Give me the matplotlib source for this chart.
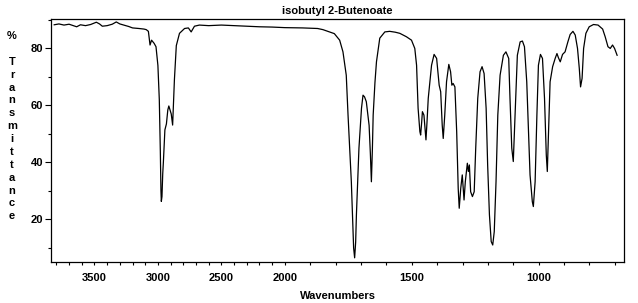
import numpy as np
import matplotlib
matplotlib.use('Agg')
import matplotlib.pyplot as plt
from matplotlib.ticker import FixedLocator, MultipleLocator

# spectrum (wavenumber, %T)
wavenumber = [3817, 3780, 3740, 3700, 3660, 3640, 3610, 3570, 3530, 3485, 3460, 3438,
              3400, 3360, 3328, 3300, 3260, 3230, 3200, 3150, 3110, 3092, 3075, 3068,
              3062, 3056, 3050, 3030, 3015, 3000, 2989, 2981, 2976, 2973, 2968, 2962,
              2957, 2945, 2933, 2922, 2914, 2905, 2895, 2884, 2878, 2870, 2855, 2830,
              2790, 2760, 2745, 2738, 2725, 2712, 2673, 2600, 2500, 2400, 2300, 2200,
              2100, 2000, 1930, 1871, 1850, 1824, 1805, 1784, 1771, 1758, 1751, 1738,
              1729, 1725, 1721, 1718, 1708, 1698, 1692, 1686, 1679, 1668, 1663, 1659,
              1655, 1652, 1645, 1639, 1626, 1606, 1587, 1565, 1547, 1521, 1501, 1488,
              1481, 1475, 1468, 1465, 1461, 1458, 1452, 1448, 1444, 1440, 1435, 1422,
              1412, 1402, 1392, 1386, 1380, 1376, 1370, 1363, 1354, 1347, 1342, 1337,
              1330, 1323, 1317, 1313, 1307, 1301, 1294, 1289, 1281, 1277, 1273, 1268,
              1261, 1254, 1248, 1240, 1231, 1223, 1215, 1207, 1201, 1194, 1187, 1181,
              1175, 1168, 1161, 1152, 1139, 1129, 1118, 1113, 1106, 1100, 1093, 1084,
              1073, 1064, 1056, 1047, 1040, 1034, 1025, 1021, 1014, 1007, 1001, 993,
              985, 977, 970, 966, 961, 955, 945, 935, 928, 922, 915, 906,
              896, 885, 876, 865, 856, 847, 840, 835, 829, 823, 814, 801,
              784, 766, 748, 738, 727, 718, 709, 701, 691]
transmittance = [88.3, 88.6, 88.2, 88.5, 87.9, 87.6, 88.3, 88.0, 88.4, 89.2, 88.6, 87.8,
                 88.0, 88.5, 89.3, 88.6, 88.1, 87.7, 87.2, 87.0, 86.8, 86.6, 86.0, 83.5,
                 81.2, 82.0, 82.9, 81.8, 80.6, 74.0, 62.0, 44.0, 30.0, 26.3, 28.0, 36.0,
                 40.0, 51.4, 53.5, 58.4, 59.8, 58.5, 57.0, 53.1, 60.0, 69.0, 81.0, 85.3,
                 87.0, 87.2, 86.2, 85.8, 86.8, 87.8, 88.2, 88.0, 88.2, 88.0, 87.8, 87.6,
                 87.5, 87.3, 87.2, 87.0, 86.6, 85.8, 85.2, 82.9, 78.8, 70.6, 56.6, 33.2,
                 10.0, 6.5, 12.0, 21.6, 45.0, 59.0, 63.6, 63.0, 61.3, 53.0, 43.0, 33.2,
                 45.0, 56.6, 68.0, 75.3, 83.6, 85.8, 86.0, 85.7, 85.3, 84.1, 82.9, 80.0,
                 74.1, 59.0, 50.8, 49.6, 54.0, 57.8, 56.6, 52.0, 47.9, 54.0, 62.5, 74.1,
                 77.9, 76.5, 67.1, 64.8, 53.1, 48.4, 56.6, 68.3, 74.4, 71.8, 67.1, 67.7,
                 66.5, 50.8, 30.9, 23.9, 30.9, 35.6, 26.8, 33.2, 39.7, 36.8, 39.1, 29.7,
                 28.0, 29.7, 45.0, 62.5, 71.8, 73.6, 71.2, 59.0, 39.1, 21.6, 12.2, 11.0,
                 15.7, 33.2, 56.6, 70.6, 77.6, 78.8, 76.5, 62.5, 45.0, 40.3, 56.6, 77.6,
                 82.3, 82.6, 80.6, 68.3, 50.8, 35.6, 26.2, 24.5, 33.2, 56.6, 74.1, 77.9,
                 76.5, 62.5, 42.6, 36.8, 50.8, 68.3, 73.6, 76.5, 78.2, 76.7, 75.3, 77.9,
                 78.8, 82.3, 84.9, 86.0, 84.7, 80.0, 73.0, 66.5, 69.5, 80.0, 85.3, 87.6,
                 88.4, 88.2, 86.8, 84.1, 80.6, 80.0, 81.2, 80.0, 77.6]
x_ticks = [3500, 3000, 2500, 2000, 1500, 1000]
y_ticks = [20, 40, 60, 80]

plt.rcParams['font.family'] = ['Liberation Sans', 'DejaVu Sans']
plt.rcParams['font.weight'] = 'bold'


# axis is compressed 2x above 2000 cm-1
def fwd(x):
    x = np.asarray(x, dtype=float)
    return np.where(x <= 2000, x, 2000 + (x - 2000) / 2)


def inv(u):
    u = np.asarray(u, dtype=float)
    return np.where(u <= 2000, u, 2000 + (u - 2000) * 2)


fig = plt.figure(figsize=(6.38, 3.03), dpi=100)
ax = fig.add_axes([0.080, 0.135, 0.898, 0.802])
ax.plot(wavenumber, transmittance, color='black', lw=0.9)

ax.set_xscale('function', functions=(fwd, inv))
ax.set_xlim(3842, 664)
ax.set_ylim(5, 90.3)
ax.xaxis.set_major_locator(FixedLocator(x_ticks))
ax.xaxis.set_minor_locator(MultipleLocator(100))
ax.yaxis.set_major_locator(FixedLocator(y_ticks))
ax.yaxis.set_minor_locator(MultipleLocator(10))
ax.tick_params(axis='x', which='both', length=2.5, width=0.8, pad=5, labelsize=8)
ax.tick_params(axis='y', which='major', length=4.5, width=0.8, pad=1, labelsize=8)
ax.tick_params(axis='y', which='minor', length=2.2, width=0.8)
for s in ax.spines.values():
    s.set_linewidth(0.9)

ax.set_title('isobutyl 2-Butenoate', fontsize=8, fontweight='bold', pad=4)
ax.set_xlabel('Wavenumbers', fontsize=8, fontweight='bold', labelpad=6)
fig.text(12 / 638, 1 - 31 / 303, '%\n\nT\nr\na\nn\ns\nm\ni\nt\nt\na\nn\nc\ne',
         ha='center', va='top', fontsize=8, fontweight='bold', linespacing=1.36)

fig.savefig('out.png', dpi=100)
